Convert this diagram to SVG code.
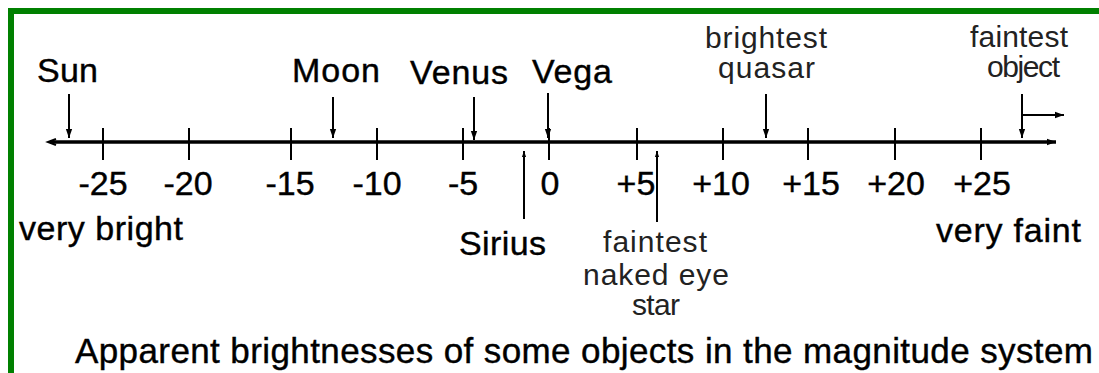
<svg xmlns="http://www.w3.org/2000/svg" width="1099" height="373" viewBox="0 0 1099 373">
<style>
.b{font-family:"Liberation Sans",Arial,sans-serif;font-size:34px;fill:#000;stroke:#000;stroke-width:0.4px}
.c{font-size:35px}
.t{font-family:"Liberation Sans",Arial,sans-serif;font-size:30px;fill:#222}
.n{text-anchor:middle}
.ln{stroke:#000;stroke-width:2;fill:none}
</style>
<defs>
<marker id="ah" viewBox="0 0 10 10" refX="10" refY="5" markerWidth="10" markerHeight="9" markerUnits="userSpaceOnUse" orient="auto">
<path d="M0,1.5 L10,5 L0,8.5 Z" fill="#000"/>
</marker>
<marker id="ahs" viewBox="0 0 10 10" refX="10" refY="5" markerWidth="7" markerHeight="6" markerUnits="userSpaceOnUse" orient="auto">
<path d="M0,1.5 L10,5 L0,8.5 Z" fill="#000"/>
</marker>
</defs>
<rect width="1099" height="373" fill="#fff"/>
<g id="frame" fill="#008000">
<rect x="8" y="8" width="1091" height="6"/>
<rect x="8" y="8" width="6" height="365"/>
</g>
<g id="axis">
<line x1="50" y1="142" x2="1056" y2="142" stroke="#000" stroke-width="3.5" marker-end="url(#ah)"/>
<path d="M56,139 L48,142 L56,145" class="ln" stroke-width="1.5"/>
<g class="ln">
<line x1="103" y1="128" x2="103" y2="160"/>
<line x1="189" y1="128" x2="189" y2="160"/>
<line x1="291" y1="128" x2="291" y2="160"/>
<line x1="377" y1="128" x2="377" y2="160"/>
<line x1="463" y1="128" x2="463" y2="160"/>
<line x1="549" y1="128" x2="549" y2="160"/>
<line x1="637" y1="128" x2="637" y2="160"/>
<line x1="723" y1="128" x2="723" y2="160"/>
<line x1="808" y1="128" x2="808" y2="160"/>
<line x1="895" y1="128" x2="895" y2="160"/>
<line x1="981" y1="128" x2="981" y2="160"/>
</g>
<g class="b n">
<text x="103" y="195">-25</text>
<text x="188" y="195">-20</text>
<text x="290" y="195">-15</text>
<text x="377" y="195">-10</text>
<text x="463" y="195">-5</text>
<text x="550" y="195">0</text>
<text x="636" y="195">+5</text>
<text x="721" y="195">+10</text>
<text x="811" y="195">+15</text>
<text x="896" y="195">+20</text>
<text x="982" y="195">+25</text>
</g>
<text class="b" x="19" y="240" textLength="164" lengthAdjust="spacing">very bright</text>
<text class="b" x="936" y="242" textLength="145" lengthAdjust="spacing">very faint</text>
</g>
<g id="connectors" class="ln">
<line x1="69" y1="94" x2="69" y2="138" marker-end="url(#ah)"/>
<line x1="333" y1="97" x2="333" y2="138" marker-end="url(#ah)"/>
<line x1="474" y1="97" x2="474" y2="140" marker-end="url(#ah)"/>
<line x1="548" y1="93" x2="548" y2="138" marker-end="url(#ah)"/>
<line x1="766" y1="94" x2="766" y2="138" marker-end="url(#ah)"/>
<line x1="1022" y1="94" x2="1022" y2="138" marker-end="url(#ah)"/>
<line x1="1022" y1="115" x2="1064" y2="115" marker-end="url(#ah)"/>
<line x1="524" y1="219" x2="524" y2="151" marker-end="url(#ahs)"/>
<line x1="657" y1="222" x2="657" y2="151" marker-end="url(#ahs)"/>
</g>
<g id="sun"><text class="b" x="37" y="82" textLength="61" lengthAdjust="spacing">Sun</text></g>
<g id="moon"><text class="b" x="292" y="82" textLength="88" lengthAdjust="spacing">Moon</text></g>
<g id="venus"><text class="b" x="410" y="84" textLength="98" lengthAdjust="spacing">Venus</text></g>
<g id="vega"><text class="b" x="532" y="83" textLength="80" lengthAdjust="spacing">Vega</text></g>
<g id="quasar">
<text class="t" x="705" y="48" textLength="122" lengthAdjust="spacing">brightest</text>
<text class="t" x="718" y="78" textLength="97" lengthAdjust="spacing">quasar</text>
</g>
<g id="faintest-object">
<text class="t" x="970" y="47" textLength="98" lengthAdjust="spacing">faintest</text>
<text class="t" x="987" y="77" textLength="73" lengthAdjust="spacing">object</text>
</g>
<g id="sirius"><text class="b" x="459" y="255" textLength="87" lengthAdjust="spacing">Sirius</text></g>
<g id="naked-eye">
<text class="t" x="603" y="252" textLength="104" lengthAdjust="spacing">faintest</text>
<text class="t" x="583" y="285" textLength="146" lengthAdjust="spacing">naked eye</text>
<text class="t" x="632" y="315" textLength="48" lengthAdjust="spacing">star</text>
</g>
<g id="caption"><text class="b c" x="75" y="363" textLength="1018" lengthAdjust="spacing">Apparent brightnesses of some objects in the magnitude system</text></g>
</svg>
